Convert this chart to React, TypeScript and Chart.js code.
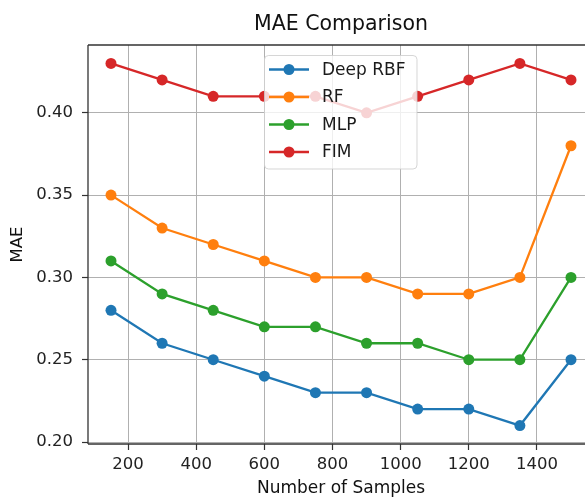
import React, { useEffect, useRef } from 'react';
import { Chart, registerables } from 'chart.js';

Chart.register(...registerables);

const samples = [150, 300, 450, 600, 750, 900, 1050, 1200, 1350, 1500];
const deepRBF = [0.28, 0.26, 0.25, 0.24, 0.23, 0.23, 0.22, 0.22, 0.21, 0.25];
const rf = [0.35, 0.33, 0.32, 0.31, 0.30, 0.30, 0.29, 0.29, 0.30, 0.38];
const mlp = [0.31, 0.29, 0.28, 0.27, 0.27, 0.26, 0.26, 0.25, 0.25, 0.30];
const fim = [0.43, 0.42, 0.41, 0.41, 0.41, 0.40, 0.41, 0.42, 0.43, 0.42];
const seriesNames = ['Deep RBF', 'RF', 'MLP', 'FIM'];
const seriesColors = ['#1f77b4', '#ff7f0e', '#2ca02c', '#d62728'];
const xTicks = [200, 400, 600, 800, 1000, 1200, 1400];
const yTicks = [0.2, 0.25, 0.3, 0.35, 0.4];

const FONT = "'DejaVu Sans', 'Liberation Sans', sans-serif";

const framePlugin = {
  id: 'frameAndLegend',
  afterDatasetsDraw(chart: any) {
    const { ctx, chartArea: a } = chart;
    ctx.save();
    // spines
    ctx.strokeStyle = '#333333';
    ctx.lineWidth = 1.3;
    ctx.beginPath();
    ctx.moveTo(a.left, a.top);
    ctx.lineTo(a.right, a.top);
    ctx.moveTo(a.left, a.top);
    ctx.lineTo(a.left, a.bottom);
    ctx.moveTo(a.left, a.bottom);
    ctx.lineTo(a.right, a.bottom);
    ctx.moveTo(a.right, a.top);
    ctx.lineTo(a.right, a.bottom);
    ctx.stroke();

    // legend
    const lx = a.left + 176;
    const ly = a.top + 10;
    const lw = 152.5;
    const lh = 113.5;
    ctx.beginPath();
    (ctx as any).roundRect(lx + 0.5, ly + 0.5, lw, lh, 4);
    ctx.fillStyle = 'rgba(255,255,255,0.8)';
    ctx.fill();
    ctx.strokeStyle = 'rgba(204,204,204,0.8)';
    ctx.lineWidth = 1;
    ctx.stroke();

    chart.data.datasets.forEach((ds: any, i: number) => {
      const cy = ly + 14.5 + i * 27.5;
      ctx.strokeStyle = ds.borderColor;
      ctx.lineWidth = 2.3;
      ctx.beginPath();
      ctx.moveTo(lx + 5, cy);
      ctx.lineTo(lx + 45, cy);
      ctx.stroke();
      ctx.fillStyle = ds.borderColor;
      ctx.beginPath();
      ctx.arc(lx + 25, cy, 5.5, 0, Math.PI * 2);
      ctx.fill();
      ctx.fillStyle = '#1a1a1a';
      ctx.font = `17px ${FONT}`;
      ctx.textAlign = 'left';
      ctx.textBaseline = 'middle';
      ctx.fillText(ds.label, lx + 58, cy + 1);
    });
    ctx.restore();
  },
};

export default function App() {
  const ref = useRef<HTMLCanvasElement | null>(null);

  useEffect(() => {
    if (!ref.current) return;
    const seriesValues = [deepRBF, rf, mlp, fim];
    const datasets = seriesNames.map((name, i) => ({
      label: name,
      data: samples.map((x, j) => ({ x, y: seriesValues[i][j] })),
      borderColor: seriesColors[i],
      backgroundColor: seriesColors[i],
      pointBackgroundColor: seriesColors[i],
      pointBorderColor: seriesColors[i],
      pointBorderWidth: 0,
      pointRadius: 5.5,
      borderWidth: 2.3,
      tension: 0,
      fill: false,
      order: seriesNames.length - i,
    }));

    const chart = new Chart(ref.current, {
      type: 'line',
      data: { datasets },
      plugins: [framePlugin],
      options: {
        animation: false,
        responsive: false,
        maintainAspectRatio: false,
        layout: { padding: { left: 0, right: 26, top: 0, bottom: 0 } },
        plugins: {
          legend: { display: false },
          tooltip: { enabled: false },
          title: {
            display: true,
            text: 'MAE Comparison',
            fullSize: false,
            color: '#111111',
            font: { family: FONT, size: 20.5, weight: 'normal', lineHeight: 1.2 },
            padding: { top: 12.7, bottom: 7.7 },
          },
        },
        scales: {
          x: {
            type: 'linear',
            min: 82.5,
            max: 1567.5,
            afterFit: (s: any) => {
              s.height = 57;
            },
            afterBuildTicks: (s: any) => {
              s.ticks = xTicks.map((v) => ({ value: v }));
            },
            ticks: {
              callback: (v: any) => String(v),
              color: '#222222',
              font: { family: FONT, size: 16.5, lineHeight: 1.2 },
              padding: 4.6,
              maxRotation: 0,
              autoSkip: false,
            },
            grid: {
              color: '#b0b0b0',
              lineWidth: 1,
              tickColor: '#333333',
              tickLength: 6,
              tickWidth: 1.2,
            },
            border: { display: false },
            title: {
              display: true,
              text: 'Number of Samples',
              color: '#111111',
              font: { family: FONT, size: 17, lineHeight: 1.2 },
              padding: { top: 0, bottom: 2 },
            },
          },
          y: {
            type: 'linear',
            min: 0.1988,
            max: 0.4412,
            afterFit: (s: any) => {
              s.width = 88;
            },
            afterBuildTicks: (s: any) => {
              s.ticks = yTicks.map((v) => ({ value: v }));
            },
            ticks: {
              callback: (v: any) => Number(v).toFixed(2),
              color: '#222222',
              font: { family: FONT, size: 16.5, lineHeight: 1.2 },
              padding: 9,
              autoSkip: false,
            },
            grid: {
              color: '#b0b0b0',
              lineWidth: 1,
              tickColor: '#333333',
              tickLength: 6,
              tickWidth: 1.2,
            },
            border: { display: false },
            title: {
              display: true,
              text: 'MAE',
              color: '#111111',
              font: { family: FONT, size: 16.5, lineHeight: 1.2 },
              padding: { top: 7.5, bottom: 0 },
            },
          },
        },
      },
    });
    return () => chart.destroy();
  }, []);

  return (
    <div
      style={{
        position: 'fixed',
        left: 0,
        top: 0,
        width: 585,
        height: 501,
        overflow: 'hidden',
        background: '#ffffff',
      }}
    >
      <canvas ref={ref} width={620} height={501} style={{ display: 'block', width: 620, height: 501 }} />
    </div>
  );
}
